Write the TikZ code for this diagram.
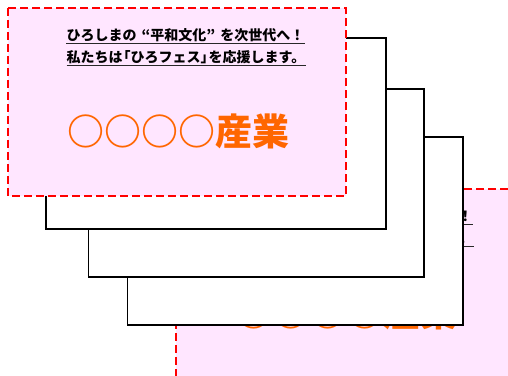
\documentclass[tikz,border=0pt]{standalone}
\usepackage{fontspec}
\newfontfamily\jp{Noto Sans CJK JP Black}
\newfontfamily\jpheavy{Noto Sans CJK JP Black}
\definecolor{cardpink}{RGB}{255,230,255}
\definecolor{carddash}{RGB}{255,0,0}
\definecolor{cardorange}{RGB}{255,102,0}
\definecolor{ulgray}{RGB}{40,40,40}
\tikzset{
  cardframe/.style={fill=cardpink, draw=carddash, line width=1.6pt, dash pattern=on 8pt off 4pt},
  whitebox/.style={fill=white, draw=black, line width=1.8pt},
  slogan/.style={inner sep=0pt, font=\jp\fontsize{14}{15}\selectfont, text=black},
  company/.style={inner sep=0pt, font=\jpheavy\fontsize{37}{40}\selectfont, text=cardorange},
  uline/.style={draw=ulgray, line width=1pt},
  card/.pic={
    \draw[cardframe] (0,0) rectangle (338,-188);
    \node[slogan] (l1) at (177.5,-27) {ひろしまの\kern5pt“平和文化”\kern5pt を次世代へ！};
    \node[slogan] (l2) at (178,-49) {私たちは\kern-6pt「ひろフェス」\kern-6pt を応援します。};
    \draw[uline] ([yshift=-1.5pt]l1.south west) -- ([yshift=-1.5pt]l1.south east);
    \draw[uline] ([yshift=-1.5pt]l2.south west) -- ([yshift=-1.5pt]l2.south east);
    \node[company] (co) at (170.5,-123.5) {○○○○産業};
  }
}
\begin{document}
\begin{tikzpicture}[x=1pt,y=1pt]
\useasboundingbox (0,0) rectangle (508,-375);
\clip (0,0) rectangle (508,-375);
% back card (partly hidden)
\pic (back) at (176,-189) {card};
% stacked white sheets
\draw[whitebox] (127.5,-137) rectangle (463,-325);
\draw[whitebox] (88.5,-89) rectangle (424,-277);
\draw[whitebox] (46,-38) rectangle (386,-229);
% front card
\pic (front) at (8,-8) {card};
\end{tikzpicture}
\end{document}
